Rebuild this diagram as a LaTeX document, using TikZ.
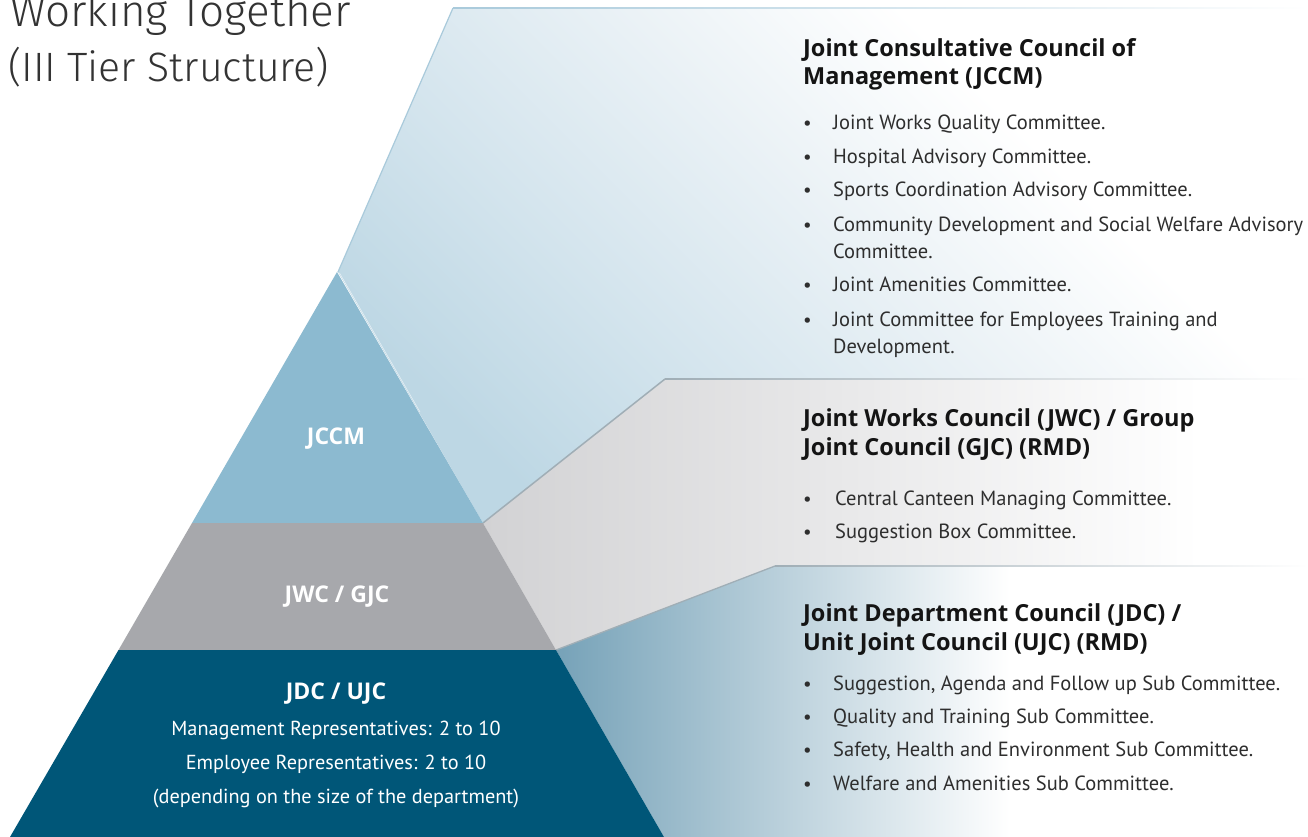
\documentclass[tikz,border=0pt]{standalone}
\usepackage{fontspec}
\setmainfont{PT Sans}
\newfontfamily\titlefont{Fira Sans Light}
\newfontfamily\headfont{Open Sans}
\definecolor{jccm}{HTML}{8CBAD0}
\definecolor{jwc}{HTML}{A7A8AC}
\definecolor{jdc}{HTML}{005678}
\definecolor{funA}{HTML}{BDD7E4}
\definecolor{funAm}{HTML}{D3E4ED}
\definecolor{funAl}{HTML}{EBF2F6}
\definecolor{funB}{HTML}{D2D2D4}
\definecolor{funC}{HTML}{76A2B8}
\definecolor{edgeA}{HTML}{A9CADB}
\definecolor{edgeB}{HTML}{A0AEB6}
\definecolor{txt}{HTML}{2E2E2E}
\definecolor{titletxt}{HTML}{333333}
\pgfdeclarehorizontalshading{shadeA}{100bp}{color(0bp)=(funA); color(25bp)=(funA); color(38bp)=(funAm); color(53bp)=(funAl); color(66bp)=(white); color(100bp)=(white)}
\tikzset{
  head/.style={anchor=base west, inner sep=0, font=\headfont\bfseries\fontsize{23.5}{28}\selectfont, text=black!92},
  item/.style={anchor=base west, inner sep=0, font=\fontsize{20.5}{27}\selectfont, text=txt},
  bul/.style={anchor=base west, inner sep=0, font=\fontsize{19}{19}\selectfont, text=txt},
  pyrlab/.style={anchor=base, inner sep=0, font=\headfont\bfseries\fontsize{23}{23}\selectfont, text=white},
  pyrtxt/.style={anchor=base, inner sep=0, font=\fontsize{20.3}{20}\selectfont, text=white},
  ttl/.style={anchor=base west, inner sep=0, text=titletxt},
}
\begin{document}
\begin{tikzpicture}[x=1pt,y=-1pt]
\clip (0,0) rectangle (1308,837);
\fill[white] (0,0) rectangle (1308,837);

% ---- top funnel (JCCM)
\begin{scope}
\clip (338,272) -- (453,8) -- (1308,8) -- (1308,379) -- (665,379) -- (483,523) -- cycle;
\shade[shading=shadeA, shading angle=45] (338,8) rectangle (1308,523);
\end{scope}
% ---- middle funnel (JWC)
\begin{scope}
\clip (483,523) -- (665,379) -- (1308,379) -- (1308,566) -- (775,566) -- (556,650) -- cycle;
\fill[white] (483,379) rectangle (1308,650);
\shade[left color=funB, right color=white] (483,379) rectangle (1200,650);
\end{scope}
% ---- bottom funnel (JDC)
\begin{scope}
\clip (556,650) -- (775,566) -- (1308,566) -- (1308,837) -- (664,837) -- cycle;
\fill[white] (556,566) rectangle (1308,837);
\shade[left color=funC, right color=white] (556,566) rectangle (1010,837);
\end{scope}

% ---- funnel edges
\draw[edgeA, line width=1.2pt] (338,272) -- (453,8);
\shade[left color=edgeA, right color=white] (453,7.4) rectangle (1308,8.8);
\draw[edgeB, line width=1.5pt] (483,523) -- (665,379);
\shade[left color=edgeB, right color=white] (665,378.2) rectangle (1308,379.8);
\draw[edgeB, line width=1.3pt] (556,650) -- (775,566);
\shade[left color=edgeB, right color=white] (775,565.3) rectangle (1308,566.8);

% ---- pyramid
\fill[jccm] (337,272) -- (483,523) -- (192,523) -- cycle;
\fill[jwc] (192,523) -- (483,523) -- (556,650) -- (118.5,650) -- cycle;
\fill[jdc] (118.5,650) -- (556,650) -- (664,837) -- (10,837) -- cycle;
\draw[white, opacity=0.6, line width=0.6pt] (339.5,273) -- (420,412);

\node[pyrlab] (ljccm) at (336,444) {JCCM};
\node[pyrlab] (ljwc) at (337,602) {JWC / GJC};
\node[pyrlab] (ljdc) at (336,699) {JDC / UJC};
\node[pyrtxt] (lmr) at (336,735) {Management Representatives: 2 to 10};
\node[pyrtxt] (ler) at (336,769) {Employee Representatives: 2 to 10};
\node[pyrtxt] (ldep) at (336,803) {(depending on the size of the department)};

% ---- title
\node[ttl, font=\titlefont\fontsize{44}{44}\selectfont] (t1) at (10,27) {Working Together};
\node[ttl, font=\titlefont\fontsize{41}{41}\selectfont] (t2) at (8,82) {(III Tier Structure)};

% ---- JCCM text
\node[head] (ha1) at (803,56.5) {Joint Consultative Council of};
\node[head] (ha2) at (803,84.3) {Management (JCCM)};
\node[bul] (ba1) at (803,129.3) {•};
\node[item] (ia1) at (833,129.3) {Joint Works Quality Committee.};
\node[bul] (ba2) at (803,163.3) {•};
\node[item] (ia2) at (833,163.3) {Hospital Advisory Committee.};
\node[bul] (ba3) at (803,196.7) {•};
\node[item] (ia3) at (833,196.7) {Sports Coordination Advisory Committee.};
\node[bul] (ba4) at (803,231) {•};
\node[item] (ia4) at (833,231) {Community Development and Social Welfare Advisory};
\node[item] (ia4b) at (833,258.3) {Committee.};
\node[bul] (ba5) at (803,291.7) {•};
\node[item] (ia5) at (833,291.7) {Joint Amenities Committee.};
\node[bul] (ba6) at (803,326.7) {•};
\node[item] (ia6) at (833,326.7) {Joint Committee for Employees Training and};
\node[item] (ia6b) at (833,353.3) {Development.};

% ---- JWC text
\node[head] (hb1) at (803,426) {Joint Works Council (JWC) / Group};
\node[head] (hb2) at (803,455) {Joint Council (GJC) (RMD)};
\node[bul] (bb1) at (803,505) {•};
\node[item] (ib1) at (835,505) {Central Canteen Managing Committee.};
\node[bul] (bb2) at (803,538.3) {•};
\node[item] (ib2) at (835,538.3) {Suggestion Box Committee.};

% ---- JDC text
\node[head] (hc1) at (803,621.7) {Joint Department Council (JDC) /};
\node[head] (hc2) at (803,650) {Unit Joint Council (UJC) (RMD)};
\node[bul] (bc1) at (803,690) {•};
\node[item] (ic1) at (833,690) {Suggestion, Agenda and Follow up Sub Committee.};
\node[bul] (bc2) at (803,723.3) {•};
\node[item] (ic2) at (833,723.3) {Quality and Training Sub Committee.};
\node[bul] (bc3) at (803,756.7) {•};
\node[item] (ic3) at (833,756.7) {Safety, Health and Environment Sub Committee.};
\node[bul] (bc4) at (803,790) {•};
\node[item] (ic4) at (833,790) {Welfare and Amenities Sub Committee.};
\end{tikzpicture}
\end{document}
